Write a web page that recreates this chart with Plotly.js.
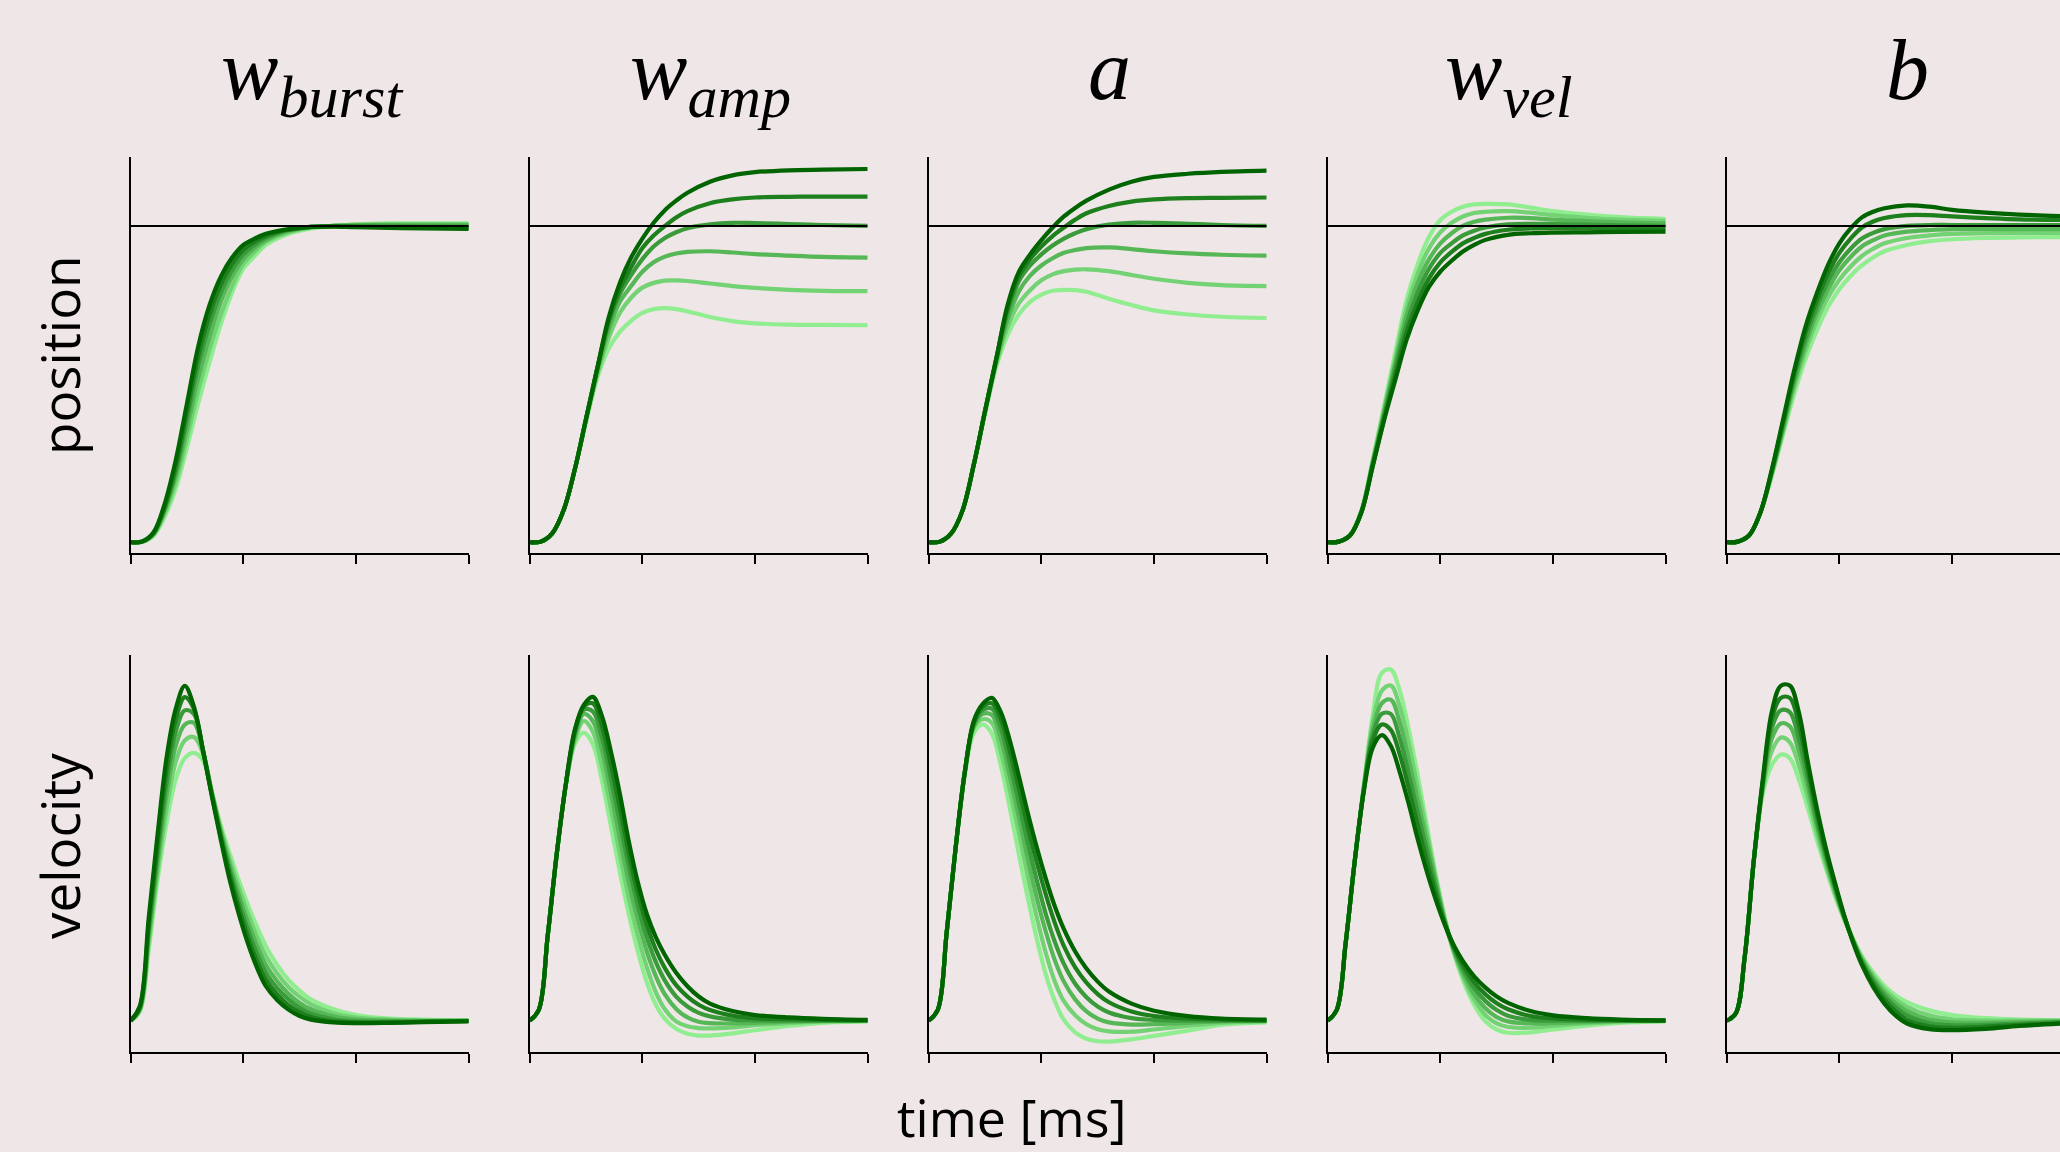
<!DOCTYPE html>
<html>
<head>
<meta charset="utf-8">
<script src="https://cdn.plot.ly/plotly-3.0.1.min.js"></script>
<style>
html,body{margin:0;padding:0;overflow:hidden;background:#EFE6E7;}
#chart{width:2070px;height:1152px;}
</style>
</head>
<body>
<div id="chart"></div>
<script>
// ---------------- DATA ----------------
const PARAM_TITLES = ['<i>w</i><sub><i>burst</i></sub>', '<i>w</i><sub><i>amp</i></sub>', '<i>a</i>', '<i>w</i><sub><i>vel</i></sub>', '<i>b</i>'];
const ROW_LABELS = ['position', 'velocity'];
const X_LABEL = 'time [ms]';
const TARGET = 1;            // target position (black reference line)
const T_TICKS = [0, 50, 100, 150];

// time samples [ms]
const T_POS = [0,5,10,15,20,25,30,35,40,45,50,55,60,65,70,80,90,100,115,130,150];
const T_VEL = [0,4,8,12,16,20,24,28,32,36,40,44,48,52,56,60,65,70,75,80,90,100,115,130,150];

// position curves, light -> dark
const POS_W_BURST = [
  [0,.001,.02,.08,.17,.30,.44,.57,.69,.79,.865,.905,.94,.96,.975,.992,1.0,1.005,1.008,1.008,1.008],
  [0,.001,.022,.09,.19,.33,.48,.61,.72,.81,.88,.918,.95,.967,.98,.995,1.0,1.004,1.006,1.006,1.006],
  [0,.002,.024,.10,.21,.36,.52,.65,.76,.84,.895,.93,.955,.972,.984,.996,1.0,1.002,1.003,1.003,1.003],
  [0,.002,.026,.105,.225,.39,.56,.69,.79,.86,.91,.94,.962,.977,.987,.997,1.0,1.0,1.0,.999,.998],
  [0,.002,.028,.11,.24,.415,.59,.72,.815,.88,.925,.95,.968,.98,.988,.997,.999,.998,.996,.995,.994],
  [0,.002,.03,.12,.26,.44,.62,.75,.84,.90,.94,.96,.975,.984,.99,.997,.998,.996,.994,.992,.991]
];
const POS_W_AMP = [
  [0,.002,.028,.10,.23,.38,.52,.612,.665,.70,.725,.737,.74,.737,.73,.712,.699,.692,.688,.687,.686],
  [0,.002,.028,.10,.23,.385,.53,.645,.725,.773,.805,.82,.827,.828,.826,.818,.81,.804,.798,.795,.794],
  [0,.002,.028,.10,.23,.39,.54,.67,.76,.81,.855,.885,.903,.913,.918,.92,.916,.911,.906,.902,.90],
  [0,.002,.028,.10,.23,.39,.55,.69,.785,.845,.895,.935,.962,.98,.993,1.005,1.01,1.009,1.006,1.003,1.0],
  [0,.002,.028,.10,.23,.39,.55,.70,.80,.87,.93,.97,1.0,1.027,1.047,1.072,1.084,1.09,1.092,1.093,1.093],
  [0,.002,.028,.10,.23,.39,.55,.71,.82,.90,.96,1.01,1.05,1.08,1.105,1.14,1.16,1.17,1.176,1.178,1.18]
];
const POS_A = [
  [0,.002,.028,.10,.245,.405,.555,.655,.72,.76,.783,.795,.798,.797,.792,.77,.75,.733,.72,.713,.709],
  [0,.002,.028,.10,.245,.41,.565,.68,.755,.797,.828,.847,.857,.862,.863,.857,.845,.833,.82,.813,.81],
  [0,.002,.028,.10,.245,.413,.572,.703,.793,.843,.875,.898,.915,.924,.93,.932,.927,.92,.913,.909,.906],
  [0,.002,.028,.10,.245,.415,.58,.725,.825,.875,.91,.938,.96,.977,.99,1.004,1.01,1.01,1.007,1.003,1.0],
  [0,.002,.028,.10,.245,.415,.58,.74,.84,.895,.935,.968,.995,1.02,1.04,1.063,1.077,1.084,1.088,1.089,1.09],
  [0,.002,.028,.10,.245,.415,.58,.75,.855,.91,.955,.995,1.03,1.057,1.08,1.115,1.14,1.155,1.165,1.171,1.175]
];
const POS_W_VEL = [
  [0,.002,.023,.10,.26,.43,.60,.766,.88,.966,1.019,1.045,1.061,1.068,1.07,1.068,1.058,1.047,1.036,1.028,1.022],
  [0,.002,.023,.099,.256,.42,.58,.74,.85,.93,.98,1.01,1.03,1.041,1.045,1.047,1.042,1.034,1.026,1.02,1.016],
  [0,.002,.023,.098,.252,.41,.565,.715,.82,.895,.945,.977,1.0,1.013,1.02,1.026,1.025,1.02,1.015,1.011,1.008],
  [0,.002,.022,.097,.248,.40,.55,.69,.79,.865,.915,.945,.97,.985,.995,1.005,1.007,1.006,1.004,1.002,1.0],
  [0,.002,.022,.096,.244,.39,.53,.665,.76,.835,.885,.918,.945,.962,.975,.988,.992,.993,.993,.993,.993],
  [0,.002,.022,.095,.24,.385,.513,.64,.734,.808,.856,.89,.919,.94,.956,.972,.977,.979,.98,.981,.982]
];
const POS_B = [
  [0,.002,.022,.095,.21,.34,.47,.58,.67,.745,.80,.842,.875,.90,.92,.94,.952,.958,.962,.964,.965],
  [0,.002,.022,.095,.214,.35,.49,.605,.70,.775,.83,.872,.905,.928,.945,.962,.97,.975,.977,.978,.978],
  [0,.002,.022,.095,.218,.36,.505,.625,.725,.80,.86,.902,.935,.955,.97,.982,.987,.99,.99,.99,.99],
  [0,.002,.022,.095,.222,.37,.52,.645,.745,.825,.885,.928,.96,.978,.99,1.0,1.003,1.003,1.003,1.003,1.003],
  [0,.002,.022,.095,.226,.38,.535,.665,.765,.85,.915,.96,.995,1.014,1.025,1.034,1.034,1.03,1.025,1.021,1.019],
  [0,.002,.022,.095,.229,.387,.545,.682,.787,.877,.945,.992,1.027,1.045,1.056,1.065,1.061,1.051,1.042,1.036,1.031]
];

// velocity curves, light -> dark
const VEL_W_BURST = [
  [0,.025,.20,.40,.56,.68,.74,.755,.735,.645,.55,.47,.395,.327,.265,.21,.157,.115,.084,.06,.032,.016,.006,.003,.001],
  [0,.028,.22,.425,.60,.73,.79,.80,.755,.645,.541,.453,.374,.302,.237,.182,.133,.095,.067,.046,.021,.009,.003,.001,0],
  [0,.031,.24,.45,.64,.775,.835,.84,.76,.643,.533,.437,.354,.279,.212,.157,.111,.076,.05,.032,.012,.003,0,-.001,0],
  [0,.034,.255,.475,.675,.815,.875,.865,.765,.64,.525,.424,.335,.257,.19,.135,.092,.06,.036,.02,.004,-.002,-.003,-.002,-.001],
  [0,.037,.27,.50,.71,.85,.912,.88,.765,.637,.517,.41,.318,.237,.168,.115,.074,.044,.024,.01,-.002,-.005,-.005,-.003,-.001],
  [0,.04,.29,.53,.745,.88,.944,.887,.765,.633,.51,.395,.30,.218,.15,.097,.058,.031,.013,.003,-.005,-.007,-.006,-.004,-.002]
];
const VEL_W_AMP = [
  [0,.03,.24,.47,.66,.78,.812,.78,.68,.55,.42,.30,.195,.108,.045,.005,-.023,-.037,-.042,-.042,-.036,-.027,-.015,-.006,-.002],
  [0,.03,.24,.47,.663,.79,.845,.815,.72,.60,.47,.345,.24,.15,.08,.032,-.002,-.016,-.021,-.022,-.019,-.013,-.007,-.003,-.001],
  [0,.03,.24,.47,.665,.80,.865,.845,.765,.645,.515,.39,.285,.195,.125,.074,.033,.009,-.003,-.007,-.008,-.006,-.003,-.001,0],
  [0,.03,.24,.47,.665,.81,.877,.872,.80,.685,.56,.435,.325,.235,.165,.113,.068,.04,.022,.012,.003,.001,0,0,0],
  [0,.03,.24,.47,.665,.815,.885,.895,.832,.722,.60,.47,.36,.27,.20,.148,.10,.068,.045,.03,.014,.007,.004,.002,.001],
  [0,.03,.24,.47,.665,.82,.89,.913,.86,.76,.64,.505,.39,.30,.235,.185,.135,.097,.068,.048,.027,.016,.009,.005,.002]
];
const VEL_A = [
  [0,.03,.25,.49,.69,.81,.835,.81,.72,.60,.47,.345,.23,.13,.055,.002,-.033,-.051,-.058,-.059,-.053,-.043,-.028,-.012,-.005],
  [0,.03,.25,.49,.695,.825,.85,.84,.76,.65,.53,.405,.29,.19,.11,.055,.015,-.01,-.024,-.03,-.031,-.025,-.015,-.006,-.002],
  [0,.03,.25,.49,.70,.83,.865,.862,.795,.69,.575,.455,.345,.25,.17,.11,.06,.026,.006,-.005,-.011,-.01,-.006,-.002,0],
  [0,.03,.25,.49,.70,.835,.876,.88,.825,.725,.615,.50,.395,.30,.222,.16,.104,.066,.04,.023,.007,.002,0,0,0],
  [0,.03,.25,.49,.70,.84,.885,.895,.85,.76,.655,.545,.445,.355,.275,.21,.15,.107,.075,.052,.026,.013,.006,.003,.001],
  [0,.03,.25,.49,.70,.845,.893,.91,.87,.79,.69,.585,.488,.40,.322,.258,.195,.147,.11,.082,.048,.028,.013,.006,.003]
];
const VEL_W_VEL = [
  [0,.03,.22,.45,.66,.86,.98,.99,.93,.82,.69,.55,.41,.29,.19,.115,.045,-.002,-.025,-.034,-.033,-.025,-.014,-.006,-.002],
  [0,.03,.22,.45,.658,.84,.93,.945,.885,.78,.655,.53,.40,.285,.193,.125,.06,.016,-.008,-.018,-.02,-.015,-.008,-.003,-.001],
  [0,.03,.22,.45,.655,.82,.895,.905,.84,.735,.62,.505,.39,.28,.198,.135,.075,.035,.01,-.002,-.008,-.007,-.004,-.001,0],
  [0,.03,.22,.45,.652,.805,.865,.865,.795,.695,.585,.48,.375,.277,.202,.145,.092,.055,.03,.014,.002,0,0,0,0],
  [0,.03,.22,.45,.648,.79,.835,.82,.75,.655,.55,.45,.358,.273,.207,.157,.108,.074,.049,.032,.013,.006,.002,.001,0],
  [0,.03,.22,.45,.645,.77,.805,.775,.70,.61,.51,.42,.34,.27,.212,.168,.125,.093,.068,.05,.027,.015,.007,.003,.001]
];
const VEL_B = [
  [0,.02,.18,.45,.64,.72,.75,.74,.68,.60,.51,.43,.353,.287,.232,.182,.136,.098,.071,.052,.029,.016,.007,.003,.001],
  [0,.02,.18,.45,.65,.76,.798,.785,.72,.63,.53,.44,.36,.29,.23,.177,.127,.088,.06,.039,.015,.004,0,0,0],
  [0,.02,.18,.45,.66,.795,.838,.83,.76,.66,.55,.453,.368,.292,.228,.172,.12,.079,.049,.027,.003,-.005,-.006,-.004,-.002],
  [0,.02,.18,.45,.665,.825,.875,.87,.795,.685,.565,.465,.376,.295,.226,.167,.112,.07,.038,.015,-.007,-.013,-.012,-.008,-.004],
  [0,.02,.18,.45,.672,.85,.91,.91,.835,.71,.585,.476,.383,.298,.224,.162,.104,.06,.026,.002,-.016,-.02,-.017,-.012,-.006],
  [0,.02,.18,.45,.68,.87,.944,.945,.87,.73,.60,.487,.39,.30,.222,.157,.095,.048,.014,-.008,-.024,-.027,-.023,-.015,-.008]
];

const POS_PANELS = [POS_W_BURST, POS_W_AMP, POS_A, POS_W_VEL, POS_B];
const VEL_PANELS = [VEL_W_BURST, VEL_W_AMP, VEL_A, VEL_W_VEL, VEL_B];

// ---------------- STYLE / LAYOUT ----------------
const COLORS = ['#90EE90', '#73D273', '#56B756', '#3A9B3A', '#1D801D', '#006400'];
const BG = '#EFE6E7';
const W = 2070, H = 1152;
const COL_LEFT = [130.7, 529.7, 928.7, 1327.7, 1726.7];
const PANEL_W = 338;
const ROW_TOP = [157, 655];
const ROW_BOTTOM = [553, 1052];
const POS_RANGE = [-0.034, 1.218];
const VEL_RANGE = [-0.0884, 1.031];
const T_RANGE = [0, 150];

const traces = [];
const layout = {
  width: W, height: H,
  margin: {l: 0, r: 0, t: 0, b: 0},
  paper_bgcolor: BG, plot_bgcolor: BG,
  showlegend: false,
  annotations: []
};

for (let row = 0; row < 2; row++) {
  for (let col = 0; col < 5; col++) {
    const k = row * 5 + col + 1;
    const xs = k === 1 ? '' : String(k);
    layout['xaxis' + xs] = {
      domain: [COL_LEFT[col] / W, (COL_LEFT[col] + PANEL_W) / W],
      range: T_RANGE, anchor: 'y' + xs,
      showline: true, linecolor: '#000', linewidth: 2,
      ticks: 'outside', ticklen: 9, tickwidth: 2, tickcolor: '#000',
      tickmode: 'array', tickvals: T_TICKS, showticklabels: false,
      showgrid: false, zeroline: false, fixedrange: true
    };
    layout['yaxis' + xs] = {
      domain: [1 - ROW_BOTTOM[row] / H, 1 - ROW_TOP[row] / H],
      range: row === 0 ? POS_RANGE : VEL_RANGE, anchor: 'x' + xs,
      showline: true, linecolor: '#000', linewidth: 2,
      ticks: '', showticklabels: false,
      showgrid: false, zeroline: false, fixedrange: true
    };
    const curves = row === 0 ? POS_PANELS[col] : VEL_PANELS[col];
    const tt = row === 0 ? T_POS : T_VEL;
    curves.forEach((ys, i) => {
      traces.push({
        type: 'scatter', mode: 'lines', x: tt, y: ys,
        xaxis: 'x' + xs, yaxis: 'y' + xs,
        line: {color: COLORS[i], width: 4.2, shape: 'spline', smoothing: 1},
        hoverinfo: 'skip'
      });
    });
    if (row === 0) {
      traces.push({
        type: 'scatter', mode: 'lines', x: T_RANGE, y: [TARGET, TARGET],
        xaxis: 'x' + xs, yaxis: 'y' + xs,
        line: {color: '#000', width: 2}, hoverinfo: 'skip'
      });
    }
  }
}

// column titles
PARAM_TITLES.forEach((txt, col) => {
  layout.annotations.push({
    text: txt, xref: 'paper', yref: 'paper',
    x: (COL_LEFT[col] + PANEL_W / 2 + 12) / W, y: 1 - 20 / H,
    xanchor: 'center', yanchor: 'top', showarrow: false,
    font: {family: 'Liberation Serif, serif', size: 86, color: '#000'}
  });
});
// row labels
[355, 846].forEach((yc, r) => {
  layout.annotations.push({
    text: ROW_LABELS[r], xref: 'paper', yref: 'paper',
    x: 59 / W, y: 1 - yc / H, xanchor: 'center', yanchor: 'middle',
    textangle: -90, showarrow: false,
    font: {family: 'Open Sans, Noto Sans, sans-serif', size: 53, color: '#000'}
  });
});
// x label
layout.annotations.push({
  text: X_LABEL, xref: 'paper', yref: 'paper',
  x: 1011 / W, y: 1 - 1116 / H, xanchor: 'center', yanchor: 'middle',
  showarrow: false,
  font: {family: 'Open Sans, Noto Sans, sans-serif', size: 52, color: '#000'}
});

Plotly.newPlot('chart', traces, layout, {displayModeBar: false, staticPlot: true});
</script>
</body>
</html>
